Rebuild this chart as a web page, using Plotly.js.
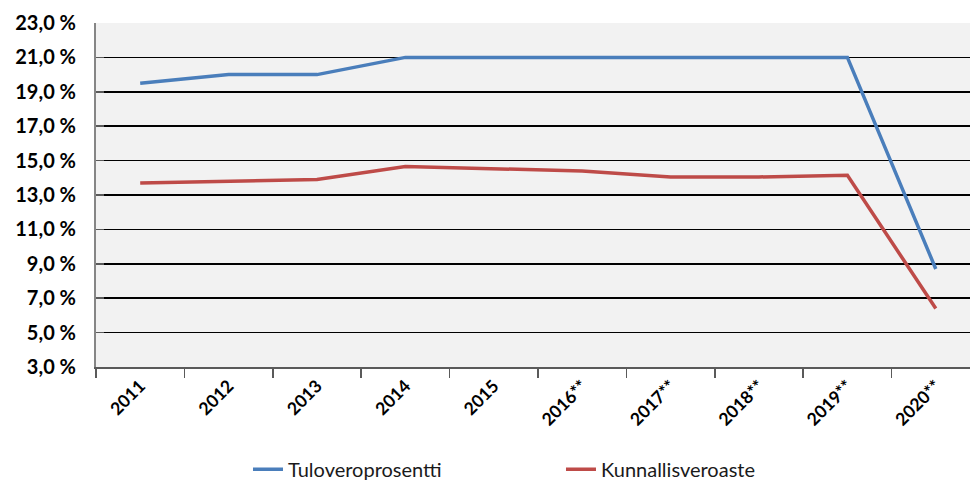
<!DOCTYPE html>
<html>
<head>
<meta charset="utf-8">
<script src="https://cdn.plot.ly/plotly-3.0.1.min.js"></script>
<style>html,body{margin:0;padding:0;background:#fff;}#chart{width:970px;height:483px;}</style>
</head>
<body>
<div id="chart"></div>
<script>
var categories = ["2011","2012","2013","2014","2015","2016**","2017**","2018**","2019**","2020**"];
var tuloveroprosentti = [19.5, 20.0, 20.0, 21.0, 21.0, 21.0, 21.0, 21.0, 21.0, 8.7];
var kunnallisveroaste = [13.7, 13.8, 13.9, 14.65, 14.5, 14.4, 14.05, 14.05, 14.15, 6.4];
var yTickVals = [3, 5, 7, 9, 11, 13, 15, 17, 19, 21, 23];
var yTickText = ["3,0 %","5,0 %","7,0 %","9,0 %","11,0 %","13,0 %","15,0 %","17,0 %","19,0 %","21,0 %","23,0 %"];
var gridVals = [5, 7, 9, 11, 13, 15, 17, 19, 21];

var traces = [
  {x: [], y: [], type: 'scatter', mode: 'lines', yaxis: 'y2', showlegend: false, hoverinfo: 'skip'},
  {x: categories, y: tuloveroprosentti, type: 'scatter', mode: 'lines', name: 'Tuloveroprosentti',
   line: {color: '#4a7ebb', width: 3.5}},
  {x: categories, y: kunnallisveroaste, type: 'scatter', mode: 'lines', name: 'Kunnallisveroaste',
   line: {color: '#be4b48', width: 3.5}}
];

var layout = {
  width: 970, height: 483,
  margin: {l: 96, r: 0, t: 23, b: 116, autoexpand: false},
  paper_bgcolor: '#ffffff',
  plot_bgcolor: '#f2f2f2',
  font: {family: 'Lato, "Open Sans", sans-serif', color: '#000'},
  showlegend: true,
  legend: {orientation: 'h', x: 0.1739, xanchor: 'left', y: -0.297, yanchor: 'middle',
           font: {size: 20, color: '#1a1a1a'}, entrywidth: 268, entrywidthmode: 'pixels',
           bgcolor: 'rgba(0,0,0,0)'},
  xaxis: {
    type: 'category', range: [-0.5, 9.387], fixedrange: true,
    showline: true, linecolor: '#5a5a5a', linewidth: 2,
    ticks: 'outside', tickson: 'boundaries', ticklen: 9, tickcolor: '#5a5a5a', tickwidth: 1.5,
    tickangle: -45, tickfont: {size: 17.5, weight: 'bold', color: '#000'},
    showgrid: false, zeroline: false
  },
  yaxis: {
    range: [3, 23], fixedrange: true,
    tickvals: yTickVals, ticktext: yTickText,
    tickfont: {size: 20, weight: 'bold', color: '#000'},
    ticks: 'inside', ticklen: 8, tickcolor: '#5a5a5a', tickwidth: 1.5,
    ticklabelstandoff: 14,
    showline: true, linecolor: '#868686', linewidth: 2,
    showgrid: false, zeroline: false
  },
  yaxis2: {
    range: [3, 23], overlaying: 'y', anchor: 'x', side: 'left', fixedrange: true,
    tickvals: gridVals, showticklabels: false, ticks: '',
    showgrid: true, gridcolor: '#000000', gridwidth: 1.5,
    showline: false, zeroline: false
  }
};

Plotly.newPlot('chart', traces, layout, {displayModeBar: false, staticPlot: true});
</script>
</body>
</html>
